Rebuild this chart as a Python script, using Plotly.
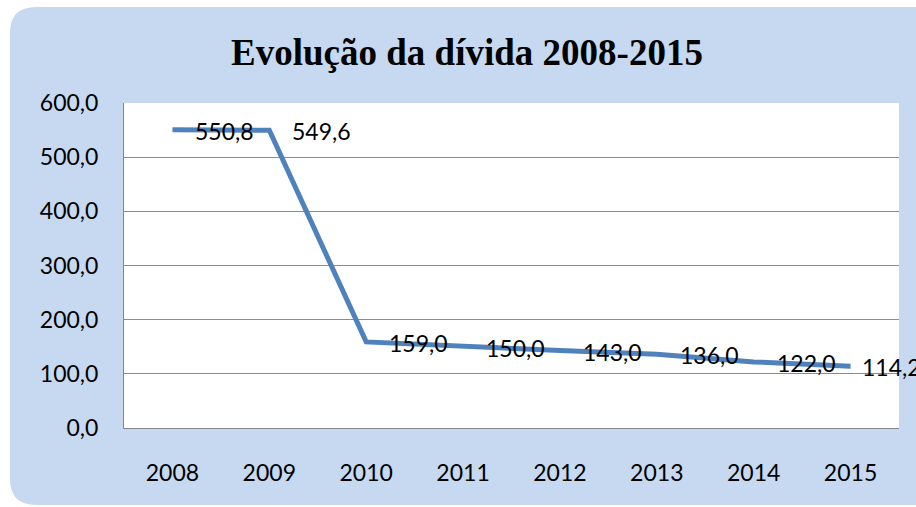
import plotly.graph_objects as go

years = ["2008", "2009", "2010", "2011", "2012", "2013", "2014", "2015"]
debt = [550.8, 549.6, 159.0, 150.0, 143.0, 136.0, 122.0, 114.2]
y_ticks = [0, 100, 200, 300, 400, 500, 600]
title_text = "Evolução da dívida 2008-2015"

W, H = 916, 507
ml, mr, mt, mb = 124, 17, 103, 79
pw, ph = W - ml - mr, H - mt - mb

def px(x):
    return (x - ml) / pw

def py(y):
    return (H - mb - y) / ph

# rounded background panel (page pixel coords -> paper coords)
L, T, R, B, r = 10, 7, 950, 505, 26
path = (
    f"M {px(L + r)} {py(T)} L {px(R - r)} {py(T)} "
    f"Q {px(R)} {py(T)} {px(R)} {py(T + r)} L {px(R)} {py(B - r)} "
    f"Q {px(R)} {py(B)} {px(R - r)} {py(B)} L {px(L + r)} {py(B)} "
    f"Q {px(L)} {py(B)} {px(L)} {py(B - r)} L {px(L)} {py(T + r)} "
    f"Q {px(L)} {py(T)} {px(L + r)} {py(T)} Z"
)

fig = go.Figure()
fig.add_trace(go.Scatter(
    x=years, y=debt, mode="lines",
    line=dict(color="#4F81BD", width=5),
    hoverinfo="skip", showlegend=False,
))

n = len(debt)
for i, v in enumerate(debt):
    fig.add_annotation(
        x=i, y=v, xref="x", yref="y", text=f"{v:.1f}".replace(".", ","),
        xanchor="left", yanchor="middle",
        xshift=(9 if i == n - 1 else 21), yshift=-1,
        showarrow=False, font=dict(family="Lato", size=23, color="#000000"),
    )

fig.update_layout(
    width=W, height=H,
    margin=dict(l=ml, r=mr, t=mt, b=mb, autoexpand=False),
    paper_bgcolor="#FFFFFF",
    plot_bgcolor="#FFFFFF",
    separators=",.",
    title=dict(
        text=f"<b>{title_text}</b>",
        x=467 / W, xanchor="center", xref="container",
        y=(H - 52) / H, yanchor="middle", yref="container",
        font=dict(family="Liberation Serif", size=37, color="#000000"),
    ),
    shapes=[
        dict(type="path", path=path, xref="paper", yref="paper",
             fillcolor="#C6D9F1", line=dict(width=0), layer="below"),
        dict(type="rect", x0=0, x1=1, y0=0, y1=1, xref="paper", yref="paper",
             fillcolor="#FFFFFF", line=dict(width=0), layer="below"),
    ],
    font=dict(family="Lato", size=23, color="#000000"),
)

fig.update_xaxes(
    type="category", range=[-0.5, 7.5],
    showgrid=False, showline=True, linecolor="#868686", linewidth=1,
    ticks="", ticklabelstandoff=24,
    tickfont=dict(family="Lato", size=23),
)
fig.update_yaxes(
    range=[0, 600], tickvals=y_ticks, tickformat=".1f",
    showgrid=True, gridcolor="#8C8C8C", gridwidth=1,
    showline=True, linecolor="#868686", linewidth=1, mirror=False,
    zeroline=False, ticks="", ticklabelstandoff=20,
    tickfont=dict(family="Lato", size=23),
)

fig.write_html(
    "out.html",
    config={"displayModeBar": False},
    post_script="document.body.style.margin='0';document.body.style.overflow='hidden';",
)
